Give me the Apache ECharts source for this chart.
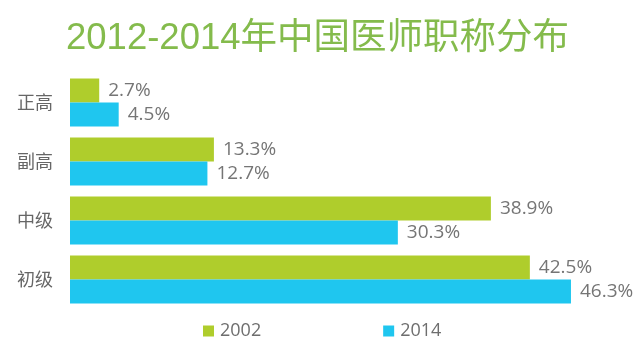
<!DOCTYPE html>
<html><head><meta charset="utf-8">
<script src="https://cdn.jsdelivr.net/npm/echarts@6/dist/echarts.min.js"></script>
<style>html,body{margin:0;padding:0;background:#fff}#c{width:640px;height:344px}</style>
</head><body><div id="c"></div>
<script>
const categories = ['正高', '副高', '中级', '初级'];
const seriesNames = ['2002', '2014'];
const values2002 = [2.7, 13.3, 38.9, 42.5];
const values2014 = [4.5, 12.7, 30.3, 46.3];
const titleText = '2012-2014年中国医师职称分布';

const chart = echarts.init(document.getElementById('c'));
const labelStyle = {show: true, position: 'right', distance: 9, color: '#757575', fontSize: 19,
  fontFamily: '"Open Sans","Noto Sans",sans-serif', formatter: p => p.value + '%'};
chart.setOption({
  animation: false,
  title: {text: titleText, left: 61, top: 16,
    textStyle: {color: '#84bb4c', fontSize: 36.5, fontWeight: 'normal', fontFamily: '"Liberation Sans","Noto Sans CJK SC",sans-serif'}},
  legend: {top: 317, left: 198, itemWidth: 11, itemHeight: 11, itemGap: 122, icon: 'rect',
    textStyle: {color: '#6e6e6e', fontSize: 18, padding: [0, 0, 0, 1], fontFamily: '"Open Sans","Noto Sans",sans-serif'},
    data: seriesNames},
  grid: {left: 70, right: 29, top: 73, height: 236},
  xAxis: {type: 'value', min: 0, max: 50, show: false},
  yAxis: {type: 'category', data: categories, inverse: true,
    axisLine: {show: false}, axisTick: {show: false},
    axisLabel: {color: '#666', fontSize: 18, margin: 17, fontFamily: '"Noto Sans CJK SC",sans-serif'}},
  series: [
    {name: seriesNames[0], type: 'bar', data: values2002, barWidth: 24, barGap: '0%',
      itemStyle: {color: '#afcd2c'}, label: labelStyle},
    {name: seriesNames[1], type: 'bar', data: values2014, barWidth: 24, barGap: '0%',
      itemStyle: {color: '#1fc6ef'}, label: labelStyle}
  ]
});
</script></body></html>
